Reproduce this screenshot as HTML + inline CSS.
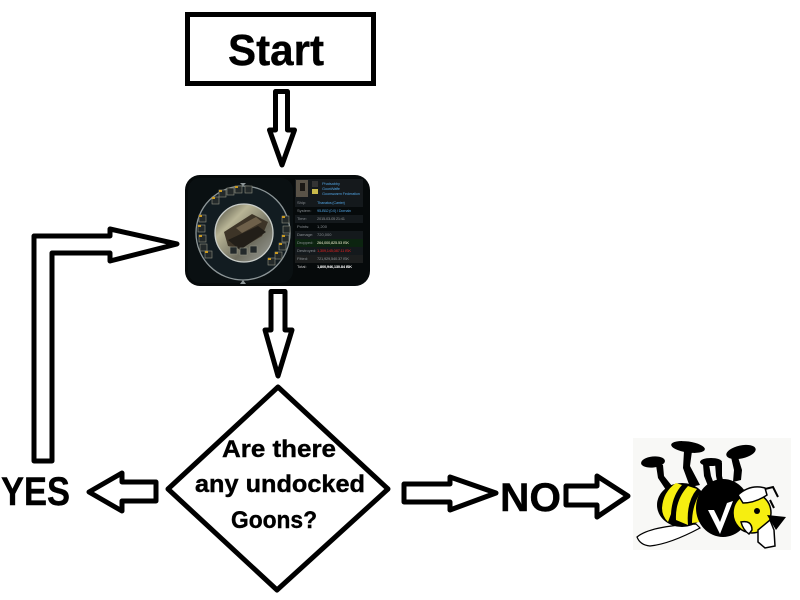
<!DOCTYPE html>
<html><head><meta charset="utf-8"><style>
html,body{margin:0;padding:0;background:#fff}
svg{display:block}
.t{font-family:"Liberation Sans",sans-serif;font-weight:bold;fill:#000;stroke:#000;stroke-width:.4}
.a{fill:#fff;stroke:#000;stroke-width:5;stroke-linejoin:round}
.k{font-family:"Liberation Sans",sans-serif;font-size:4px;fill:#8a8f93}
.v{font-family:"Liberation Sans",sans-serif;font-size:4px}
</style></head><body>
<svg width="800" height="600" viewBox="0 0 800 600" xmlns="http://www.w3.org/2000/svg">
<defs>
<linearGradient id="sky" x1="0" y1="0" x2="1" y2="1"><stop offset="0" stop-color="#3a3a30"/><stop offset=".3" stop-color="#b9b596"/><stop offset=".65" stop-color="#6d6c5e"/><stop offset="1" stop-color="#9fa39e"/></linearGradient>
</defs>
<rect width="800" height="600" fill="#fff"/>
<rect x="187.500" y="14.500" width="186" height="69" fill="#fff" stroke="#000" stroke-width="5"/>
<text class="t" x="228" y="65" font-size="44" textLength="96" lengthAdjust="spacingAndGlyphs">Start</text>

<polygon class="a" points="275.500,91.500 287.500,91.500 287.500,130 294.500,130 282,165 269.500,130 275.500,130"/>
<polygon class="a" points="271,291.500 285,291.500 285,330 292,330 278,376 265,330 271,330"/>
<polygon class="a" points="34,461 34,236 110,236 110,229 177,244 110,261 110,253 52,253 52,461"/>
<polygon class="a" points="156,482 156,501 122,501 122,511 89,492 122,473 122,482"/>
<polygon class="a" points="404,484 450,484 450,477 496,493 450,510 450,502 404,502"/>
<polygon class="a" points="566,486 597,486 597,476 628,496 597,517 597,505 566,505"/>

<polygon points="278,387 388,489 277,590 168,489" fill="#fff" stroke="#000" stroke-width="5" stroke-linejoin="round"/>
<text class="t" x="222" y="457" font-size="24" textLength="114" lengthAdjust="spacingAndGlyphs">Are there</text>
<text class="t" x="195" y="492" font-size="24" textLength="170" lengthAdjust="spacingAndGlyphs">any undocked</text>
<text class="t" x="231" y="528" font-size="24" textLength="86" lengthAdjust="spacingAndGlyphs">Goons?</text>
<text class="t" x="1" y="505" font-size="40" textLength="69" lengthAdjust="spacingAndGlyphs">YES</text>
<text class="t" x="500" y="511" font-size="40" textLength="61" lengthAdjust="spacingAndGlyphs">NO</text>

<!-- kill card -->
<rect x="185" y="175" width="185" height="111" rx="15" fill="#060a0b"/>
<rect x="188" y="178" width="105" height="105" rx="12" fill="#0a1012"/>
<circle cx="243" cy="233" r="47" fill="#121c21" stroke="#8d9698" stroke-width="1.300"/>
<path d="M243 280 l-3 4 h6z M243 186 l-3 -3 h6z" fill="#8d9698"/>
<circle cx="244" cy="233" r="29" fill="url(#sky)" stroke="#c9cdc9" stroke-width="1.300"/>
<path d="M224 232 L252 214 L268 222 L262 236 L240 249 L228 246Z" fill="#3d3427"/>
<path d="M228 240 L258 226 L266 232 L240 250Z" fill="#221e18"/>
<path d="M236 228 L256 217 L262 222 L242 233Z" fill="#6e604a"/>
<g fill="#23292a" stroke="#8f9184" stroke-width=".6">
<rect x="212" y="197" width="7" height="7"/><rect x="219" y="190" width="7" height="7"/><rect x="227" y="188" width="7" height="7"/><rect x="235" y="186" width="7" height="7"/><rect x="245" y="186" width="7" height="7"/>
<rect x="199" y="215" width="7" height="7"/><rect x="198" y="225" width="7" height="7"/><rect x="199" y="235" width="7" height="7"/><rect x="200" y="244" width="7" height="7"/><rect x="205" y="251" width="7" height="7"/>
<rect x="282" y="216" width="7" height="7"/><rect x="283" y="226" width="7" height="7"/><rect x="282" y="235" width="7" height="7"/><rect x="279" y="243" width="7" height="7"/><rect x="275" y="252" width="7" height="7"/><rect x="268" y="258" width="7" height="7"/>
<rect x="230" y="247" width="7" height="7"/><rect x="240" y="248" width="7" height="7"/><rect x="250" y="246" width="7" height="7"/>
</g>
<g fill="#c99a22">
<rect x="212" y="197" width="3" height="2"/><rect x="219" y="190" width="3" height="2"/><rect x="235" y="186" width="3" height="2"/><rect x="199" y="215" width="3" height="2"/><rect x="198" y="225" width="3" height="2"/><rect x="199" y="235" width="3" height="2"/><rect x="205" y="251" width="3" height="2"/><rect x="282" y="216" width="3" height="2"/><rect x="282" y="235" width="3" height="2"/><rect x="279" y="243" width="3" height="2"/><rect x="275" y="252" width="3" height="2"/><rect x="268" y="258" width="3" height="2"/>
</g>
<rect x="295" y="179" width="68" height="20" fill="#15191c"/>
<rect x="296" y="180" width="12" height="17" fill="#5a5348"/>
<rect x="300" y="183" width="5" height="8" fill="#1b1815"/>
<rect x="312" y="181" width="6" height="6" fill="#333"/>
<rect x="312" y="189" width="6" height="5" fill="#c9b94a"/>
<text class="v" x="322" y="185" fill="#4d9bd6" textLength="18">Phatsabby</text>
<text class="v" x="322" y="190" fill="#4d9bd6" textLength="18">GoonWaffe</text>
<text class="v" x="322" y="195" fill="#4d9bd6" textLength="38">Goonswarm Federation</text>
<g fill="#14191c">
<rect x="295" y="199" width="68" height="8"/><rect x="295" y="215" width="68" height="8"/><rect x="295" y="231" width="68" height="8"/><rect x="295" y="247" width="68" height="8"/>
</g>
<rect x="295" y="239" width="68" height="8" fill="#0c2410"/>
<rect x="295" y="255" width="68" height="8" fill="#1c1e1e"/>
<text class="k" x="297" y="204">Ship:</text><text class="v" x="317" y="204" fill="#4d9bd6" textLength="28">Thanatos (Carrier)</text>
<text class="k" x="297" y="212">System:</text><text class="v" x="317" y="212" fill="#4d9bd6" textLength="34">95-B52 (0.0) / Domain</text>
<text class="k" x="297" y="220">Time:</text><text class="k" x="317" y="220" textLength="28">2015-03-05 21:41</text>
<text class="k" x="297" y="228">Points:</text><text class="k" x="317" y="228">1,200</text>
<text class="k" x="297" y="236">Damage:</text><text class="k" x="317" y="236">720,000</text>
<text class="k" x="297" y="244">Dropped:</text><text class="v" x="317" y="244" fill="#e8e8c8" textLength="32">264,000,825.53 ISK</text>
<text class="k" x="297" y="252">Destroyed:</text><text class="v" x="317" y="252" fill="#e02020" textLength="34">1,309,145,087.11 ISK</text>
<text class="k" x="297" y="260">Fitted:</text><text class="k" x="317" y="260" textLength="32">721,929,540.37 ISK</text>
<text class="v" x="297" y="268" fill="#c8c8c8">Total:</text><text class="v" x="317" y="268" fill="#fff" font-weight="bold" textLength="35">1,800,946,130.84 ISK</text>

<!-- bee -->
<rect x="633" y="438" width="158" height="112" fill="#f8f8f6"/>
<path d="M637 537 Q650 526 696 524 L700 528 Q670 544 650 546 Q640 545 637 537Z" fill="#fff" stroke="#000" stroke-width="1.200"/>
<g fill="#000">
<ellipse cx="653" cy="462" rx="12" ry="5.500" transform="rotate(-6 653 462)"/>
<path d="M656 465 L663 465 L664 476 L672 486 L666 490 L658 478Z"/>
<ellipse cx="688" cy="447" rx="17" ry="5.500" transform="rotate(8 688 447)"/>
<path d="M684 451 L692 451 L690 466 L700 485 L690 487 L683 468Z"/>
<ellipse cx="711" cy="462" rx="11" ry="4"/>
<path d="M703 464 L709 464 L711 476 L714 484 L708 486 L704 476Z"/>
<path d="M715 463 L722 463 L722 476 L724 484 L718 485 L716 476Z"/>
<ellipse cx="741" cy="452" rx="15" ry="6.500" transform="rotate(-12 741 452)"/>
<path d="M731 457 L738 457 L742 470 L741 480 L733 482 L734 470Z"/>
</g>
<ellipse cx="682" cy="505" rx="25" ry="22" fill="#000"/>
<path d="M662 508 Q663 492 676 483 L682 485 Q672 496 671 514 L668 522 Q662 516 662 508Z" fill="#f6ee10"/>
<path d="M676 520 Q675 500 688 486 L697 489 Q686 502 688 525Z" fill="#f6ee10"/>
<path d="M692 523 Q692 507 699 495 L703 498 Q698 510 700 522Z" fill="#f6ee10"/>
<ellipse cx="723" cy="508" rx="27" ry="29" fill="#000"/>
<path d="M708 510 L720 534 L733 501 L727 503 L720 522 L714 510Z" fill="#fff"/>
<ellipse cx="752" cy="513" rx="19" ry="20" fill="#f6ee10" stroke="#000" stroke-width="1.500"/>
<path d="M738 495 Q750 484 765 488 L767 495 Q755 503 743 503Z" fill="#fff" stroke="#000" stroke-width="1.500"/>
<path d="M741 522 Q752 520 752 530 L749 534 Q743 530 741 522Z" fill="#fff" stroke="#000" stroke-width="1.500"/>
<circle cx="757" cy="511" r="3" fill="#000"/>
<path d="M758 530 L770 520 L774 530 L775 546 L765 548 L758 542Z" fill="#fff" stroke="#000" stroke-width="1.500"/>
<path d="M767 515 L786 517 L776 530Z" fill="#000"/>
<path d="M765 489 L773 487 L778 497 M770 500 L774 508" stroke="#000" stroke-width="2" fill="none"/>
</svg>
</body></html>
